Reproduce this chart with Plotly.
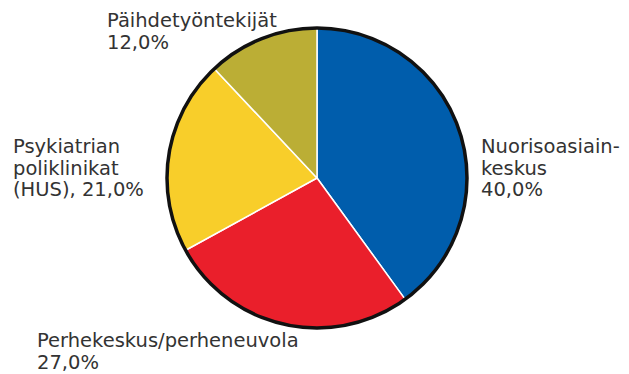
import plotly.graph_objects as go

# Jakauma toimijoittain
labels = ["Nuorisoasiainkeskus", "Perhekeskus/perheneuvola",
          "Psykiatrian poliklinikat (HUS)", "Päihdetyöntekijät"]
values = [40.0, 27.0, 21.0, 12.0]
colors = ["#005DAC", "#EA1F2B", "#F8CE2A", "#BBAE35"]
label_lines = [
    ["Nuorisoasiain-", "keskus", "{v}%"],
    ["Perhekeskus/perheneuvola", "{v}%"],
    ["Psykiatrian", "poliklinikat", "(HUS), {v}%"],
    ["Päihdetyöntekijät", "{v}%"],
]

W, H = 629, 374
cx, cy, r = 317, 178, 150
FONT_SIZE = 19.5

dom_x = [(cx - r) / W, (cx + r) / W]
dom_y = [1 - (cy + r) / H, 1 - (cy - r) / H]

fig = go.Figure()
fig.add_trace(go.Pie(
    labels=labels,
    values=values,
    sort=False,
    direction="clockwise",
    rotation=0,
    marker=dict(colors=colors, line=dict(color="white", width=1.5)),
    textinfo="none",
    hoverinfo="label+percent",
    domain=dict(x=dom_x, y=dom_y),
    showlegend=False,
))

# dark outline around the whole pie
fig.add_shape(type="circle", xref="paper", yref="paper",
              x0=dom_x[0], x1=dom_x[1], y0=dom_y[0], y1=dom_y[1],
              line=dict(color="#111111", width=3.5), layer="above")

# left edge and first-line baseline of each label block (pixels)
label_pos = [(478.5, 153), (34.5, 347.5), (10.5, 153), (105, 27.7)]
line_step = 21.8

for lines, v, (px, base) in zip(label_lines, values, label_pos):
    vtxt = f"{v:.1f}".replace(".", ",")
    for i, line in enumerate(lines):
        baseline = base + i * line_step
        mid = baseline - 0.346 * FONT_SIZE
        fig.add_annotation(
            x=px / W, y=1 - mid / H, xref="paper", yref="paper",
            xanchor="left", yanchor="middle", align="left",
            text=line.format(v=vtxt),
            showarrow=False,
            font=dict(family="DejaVu Sans", size=FONT_SIZE, color="#333333"),
        )

fig.update_layout(
    width=W, height=H,
    margin=dict(l=0, r=0, t=0, b=0),
    paper_bgcolor="white",
    plot_bgcolor="white",
)

fig.write_html("out.html")
